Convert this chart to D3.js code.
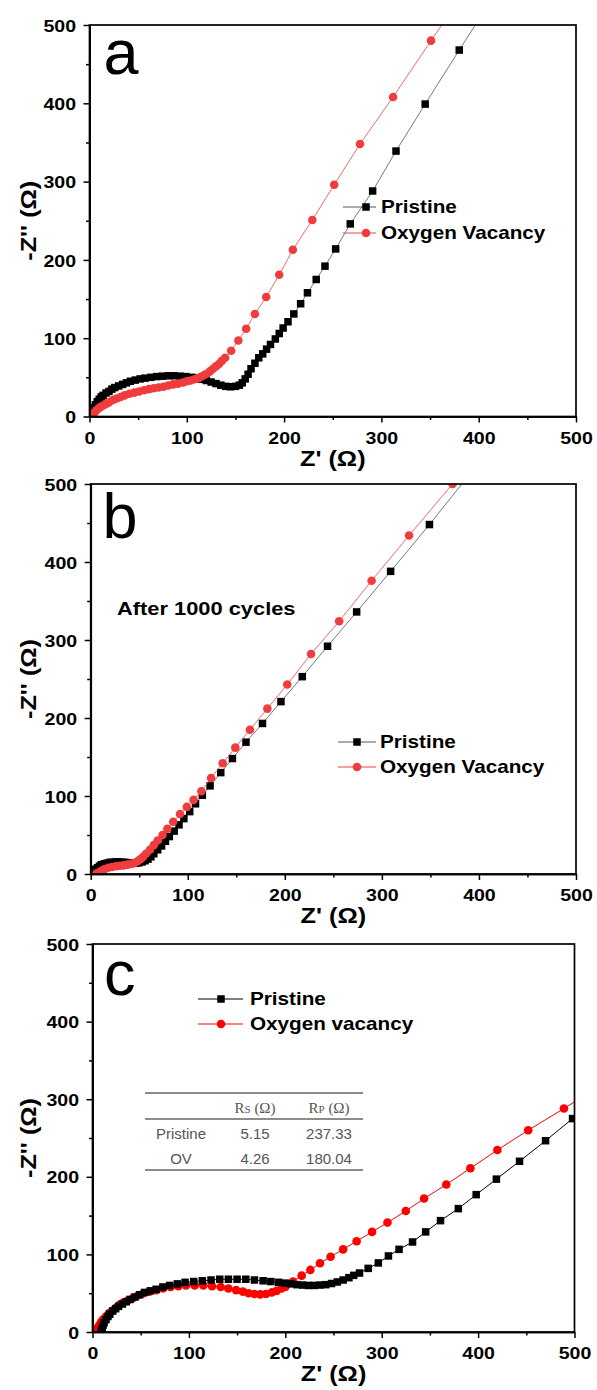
<!DOCTYPE html>
<html>
<head>
<meta charset="utf-8">
<script src="https://cdn.jsdelivr.net/npm/d3@7"></script>
<style>
html,body{margin:0;padding:0;background:#fff;}
svg{display:block;}
</style>
</head>
<body>
<svg id="chart" width="597" height="1390"></svg>
<script>
// ---------------- DATA ----------------
const xTicks = [0, 100, 200, 300, 400, 500];
const yTicks = [0, 100, 200, 300, 400, 500];
const minorTicks = [50, 150, 250, 350, 450];
const panelLetters = ["a", "b", "c"];
const seriesNamesAB = ["Pristine", "Oxygen Vacancy"];
const seriesNamesC = ["Pristine", "Oxygen vacancy"];
const noteB = "After 1000 cycles";
const tableHeader = ["", "R|S (Ω)", "R|P (Ω)"];
const tableRows = [["Pristine", "5.15", "237.33"], ["OV", "4.26", "180.04"]];

// Panel a
const aPristine = [[2,7],[4,11],[6,15],[8,19],[10,22],[12,25],[14,27],[17,30],[20,32],[23,35],[26,37],[30,39],[34,41],[38,43],[42,45],[47,46.5],[52,48],[57,49],[63,50],[69,51],[75,51.5],[81,52],[87,52],[93,51.5],[99,51],[105,50],[110,49],[115,47.5],[120,46],[125,44],[130,42],[135,40],[140,38.5],[145,38],[150,38.5],[154,40],[157,43],[160,48],[163,54],[166,61],[170,68],[174,75],[178,80],[182,86],[186,92],[191,99],[195,106],[199,113],[204,121],[210,131],[217,144],[224,158],[233,175],[242,192],[253,214],[268,246],[291,288],[315,339],[345,399],[380,468],[417,540]];
const aVacancy = [[3,2],[5,5],[7,8],[9,10],[11,12],[14,14],[17,16],[20,18],[24,21],[28,23],[32,25],[36,27],[41,29],[46,30.5],[51,32],[56,33.5],[61,35],[66,36],[71,37],[76,38],[81,39.5],[86,41],[91,42],[96,43.5],[100,45],[104,46],[108,47.5],[112,49],[115,51],[118,53],[121,55],[124,58],[127,61],[130,64],[133,67],[136,71],[139.4,75],[145.6,84],[153,97],[161,112],[170,131],[181.6,152.6],[195,181],[209,213],[229,251],[251.5,296],[278,348],[312,408],[351,480],[395,560]];

// Panel b
const bPristine = [[3,2],[4,4],[5,6],[7,8],[9,10],[11,12],[14,13],[17,14],[20,15],[23,15],[26,15.5],[29,15.5],[32,15],[35,15],[38,14.5],[41,14],[44,14],[47,14],[50,14.5],[53,15.5],[56,17],[59,19],[62,22],[65,26],[69,31],[73,36],[77,42],[81,48],[86,55],[91,63],[96,71],[102,80],[108,90],[115,101],[123,113],[134,130],[146,148],[160,169],[177,193],[196,221],[218,253],[244,292],[274,336],[309,388],[349,448],[392,515]];
const bVacancy = [[6,0.5],[8,2],[11,4],[14,6],[18,8],[22,9],[26,10],[30,10.5],[34,11],[38,12],[42,13],[45,14],[48,16],[51,19],[54,22],[57,26],[61,31],[65,37],[69,43],[74,50],[79,58],[85,67],[92,77],[99,86],[106,95],[114,106],[124,123],[136,142],[149,162],[164,185],[182,212],[202.5,243],[227,282],[256,324],[289.4,376],[328,434],[372.8,500],[420,570]];

// Panel c
const cPristine = [[9,1],[10,5],[11,9],[12,12],[14,16],[16,20],[18,23],[21,27],[24,30],[27,33],[31,36],[35,39],[39,42],[44,45],[49,48],[54,51],[60,53],[66,55],[73,58],[80,60],[88,62],[96,64],[105,65],[114,66],[123,67],[132,68],[141,68],[150,68],[159,68],[168,67],[177,66],[185,65],[193,64],[200,63],[206,62],[212,61],[218,60.5],[224,60],[230,60],[236,60.5],[242,61],[248,62.5],[254,64.5],[260,67],[266,70],[271,73],[277,76],[286,82],[296.5,89],[307,98],[318,106.5],[332,116],[345.6,129],[361,143.5],[379.5,159],[398,177],[419,197],[443,220],[470,246.5],[498,275],[528,305]];
const cVacancy = [[4,1],[5,5],[7,9],[9,13],[11,16],[14,20],[17,24],[20,27],[24,31],[28,35],[32,38],[37,41],[42,44],[47,47],[53,50],[59,52],[66,54],[73,56],[81,58],[89,59],[97,60],[106,60],[115,60],[124,59],[133,58],[141,56],[149,54],[156,52],[162,50],[168,49],[174,48.5],[180,49],[186,51],[191,53],[196,56],[200,58],[208,65],[217,72.6],[226,80],[236,88.5],[247,97],[260,106.5],[274,117],[290,129],[306,141],[325,156],[344,172],[367,190],[392,211],[420,234.5],[452,260],[489,288],[530,320]];

// ---------------- LAYOUT / STYLE ----------------
const SX = 1.15; // horizontal stretch of the bold labels
const FONT = "'Liberation Sans', Arial, sans-serif";
const svg = d3.select("#chart");

const panels = [
  {box:{left:89.5, right:576, top:25, bottom:416.5}, letter:panelLetters[0], letterPos:[103.5, 74],
   black:aPristine, red:aVacancy, names:seriesNamesAB,
   legend:{x1:343, x2:376, xm:366, tx:381, rows:[207, 233]},
   colors:{blackMk:"#000", blackLn:"#555", redMk:"#f03c3c", redLn:"#ee4444", lw:0.8}, redTop:true},
  {box:{left:90.7, right:576, top:484, bottom:874}, letter:panelLetters[1], letterPos:[102.5, 538],
   black:bPristine, red:bVacancy, names:seriesNamesAB,
   legend:{x1:338, x2:376, xm:357, tx:380, rows:[742, 767]},
   colors:{blackMk:"#000", blackLn:"#555", redMk:"#f03c3c", redLn:"#ee4444", lw:0.8}, redTop:true, note:true},
  {box:{left:92.5, right:574.5, top:944, bottom:1332}, letter:panelLetters[2], letterPos:[104, 995],
   black:cPristine, red:cVacancy, names:seriesNamesC,
   legend:{x1:198, x2:243, xm:221, tx:250, rows:[999, 1024]},
   colors:{blackMk:"#000", blackLn:"#000", redMk:"#ff0000", redLn:"#ff0000", lw:1}, redTop:false, table:true}
];

function stretchedText(g, x, y, str, size, anchor, rotate) {
  const t = g.append("text")
    .attr("transform", `translate(${x},${y})` + (rotate ? ` rotate(${rotate})` : "") + ` scale(${SX},1)`)
    .attr("text-anchor", anchor || "start")
    .attr("font-family", FONT)
    .attr("font-weight", "bold")
    .attr("font-size", size)
    .attr("fill", "#000")
    .text(str);
  return t;
}

function square(g, cx, cy, s, fill) {
  g.append("rect").attr("x", cx - s/2).attr("y", cy - s/2).attr("width", s).attr("height", s).attr("fill", fill);
}

panels.forEach((p, i) => {
  const b = p.box;
  const g = svg.append("g");
  const x = d3.scaleLinear().domain([0, 500]).range([b.left, b.right]);
  const y = d3.scaleLinear().domain([0, 500]).range([b.bottom, b.top]);

  // clip
  const clipId = "clip" + i;
  svg.append("clipPath").attr("id", clipId).append("rect")
    .attr("x", b.left).attr("y", b.top).attr("width", b.right - b.left).attr("height", b.bottom - b.top);

  // data
  const line = d3.line().x(d => x(d[0])).y(d => y(d[1]));
  const dg = g.append("g").attr("clip-path", `url(#${clipId})`);
  const drawBlack = () => {
    dg.append("path").datum(p.black).attr("d", line).attr("fill", "none")
      .attr("stroke", p.colors.blackLn).attr("stroke-width", p.colors.lw);
    dg.append("g").selectAll("rect").data(p.black).join("rect")
      .attr("x", d => x(d[0]) - 3.75).attr("y", d => y(d[1]) - 3.75)
      .attr("width", 7.5).attr("height", 7.5).attr("fill", p.colors.blackMk);
  };
  const drawRed = () => {
    dg.append("path").datum(p.red).attr("d", line).attr("fill", "none")
      .attr("stroke", p.colors.redLn).attr("stroke-width", p.colors.lw);
    dg.append("g").selectAll("circle").data(p.red).join("circle")
      .attr("cx", d => x(d[0])).attr("cy", d => y(d[1])).attr("r", 4.3).attr("fill", p.colors.redMk);
  };
  if (p.redTop) { drawBlack(); drawRed(); } else { drawRed(); drawBlack(); }

  // frame
  g.append("rect").attr("x", b.left).attr("y", b.top)
    .attr("width", b.right - b.left).attr("height", b.bottom - b.top)
    .attr("fill", "none").attr("stroke", "#000").attr("stroke-width", 1.7);

  // axes
  const xAx = g.append("g").attr("transform", `translate(0,${b.bottom})`)
    .call(d3.axisBottom(x).tickValues(xTicks).tickSize(6).tickSizeOuter(0).tickFormat(d3.format("d")));
  const xMin = g.append("g").attr("transform", `translate(0,${b.bottom})`)
    .call(d3.axisBottom(x).tickValues(minorTicks).tickSize(3.5).tickSizeOuter(0).tickFormat(""));
  const yAx = g.append("g").attr("transform", `translate(${b.left},0)`)
    .call(d3.axisLeft(y).tickValues(yTicks).tickSize(6).tickSizeOuter(0).tickFormat(d3.format("d")));
  const yMin = g.append("g").attr("transform", `translate(${b.left},0)`)
    .call(d3.axisLeft(y).tickValues(minorTicks).tickSize(3.5).tickSizeOuter(0).tickFormat(""));
  [xAx, xMin, yAx, yMin].forEach(a => {
    a.select(".domain").attr("stroke", "#000").attr("stroke-width", 1.7);
    a.selectAll(".tick line").attr("stroke", "#000").attr("stroke-width", 1.5);
  });
  xAx.selectAll(".tick text")
    .attr("y", null).attr("dy", null)
    .attr("transform", `translate(0,27) scale(${SX},1)`)
    .attr("font-family", FONT).attr("font-weight", "bold").attr("font-size", 17).attr("fill", "#000");
  yAx.selectAll(".tick text")
    .attr("x", null).attr("dy", "0.36em")
    .attr("transform", `translate(-13.5,0) scale(${SX},1)`)
    .attr("font-family", FONT).attr("font-weight", "bold").attr("font-size", 17).attr("fill", "#000");

  // axis titles
  stretchedText(g, (b.left + b.right) / 2, b.bottom + 49, "Z' (Ω)", 22, "middle");
  stretchedText(g, 36, (b.top + b.bottom) / 2, "-Z'' (Ω)", 22, "middle", -90);

  // panel letter
  g.append("text").attr("x", p.letterPos[0]).attr("y", p.letterPos[1])
    .attr("font-family", FONT).attr("font-size", 63).attr("fill", "#000").text(p.letter);

  // legend
  const L = p.legend;
  L.rows.forEach((ry, k) => {
    const lc = k === 0 ? p.colors.blackLn : p.colors.redLn;
    g.append("line").attr("x1", L.x1).attr("x2", L.x2).attr("y1", ry).attr("y2", ry)
      .attr("stroke", lc).attr("stroke-width", p.colors.lw + 0.2);
    if (k === 0) square(g, L.xm, ry, 7.5, p.colors.blackMk);
    else g.append("circle").attr("cx", L.xm).attr("cy", ry).attr("r", 4.3).attr("fill", p.colors.redMk);
    stretchedText(g, L.tx, ry + 6.4, p.names[k], 18, "start");
  });

  if (p.note) stretchedText(g, 117, 615, noteB, 19, "start");

  if (p.table) {
    const tg = g.append("g");
    const tx1 = 145, tx2 = 363;
    [1093, 1119, 1170].forEach(ly => tg.append("line").attr("x1", tx1).attr("x2", tx2)
      .attr("y1", ly).attr("y2", ly).attr("stroke", "#666").attr("stroke-width", 1.4));
    const colX = [181, 255, 329];
    tableHeader.forEach((h, c) => {
      if (!h) return;
      const parts = h.split("|");
      const t = tg.append("text").attr("x", colX[c]).attr("y", 1113).attr("text-anchor", "middle")
        .attr("font-family", "'Liberation Serif', 'DejaVu Serif', serif").attr("font-size", 15).attr("fill", "#555");
      t.append("tspan").text(parts[0]);
      t.append("tspan").attr("font-size", 11).text(parts[1].split(" ")[0]);
      t.append("tspan").text(" " + parts[1].split(" ").slice(1).join(" "));
    });
    tableRows.forEach((row, r) => {
      row.forEach((v, c) => {
        tg.append("text").attr("x", colX[c]).attr("y", [1138.5, 1164][r]).attr("text-anchor", "middle")
          .attr("font-family", FONT).attr("font-size", 15).attr("fill", "#555").text(v);
      });
    });
  }
});
</script>
</body>
</html>
